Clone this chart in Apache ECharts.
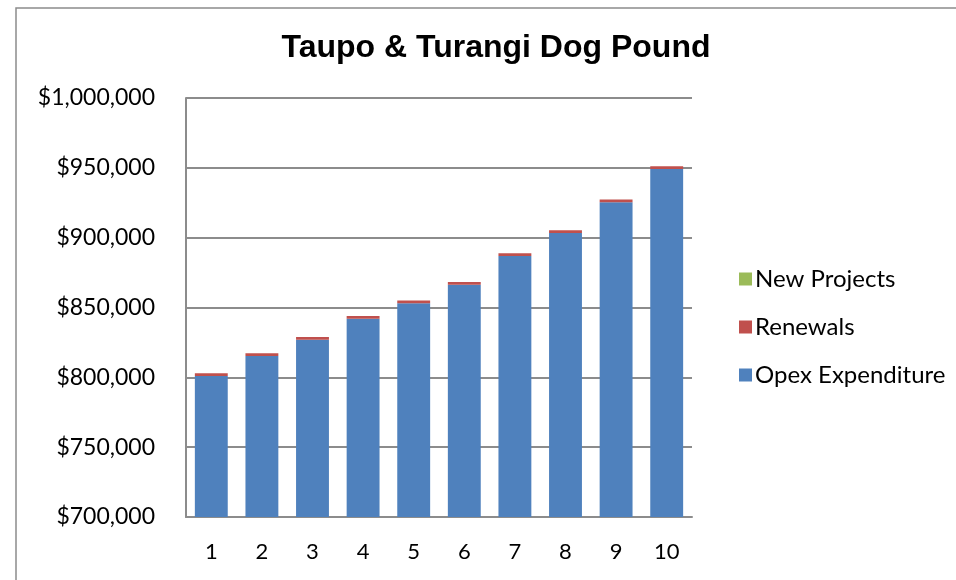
<!DOCTYPE html>
<html>
<head>
<meta charset="utf-8">
<script src="https://cdn.jsdelivr.net/npm/echarts@6/dist/echarts.min.js"></script>
<style>html,body{margin:0;padding:0;background:#fff}#c{width:956px;height:580px}</style>
</head>
<body>
<div id="c"></div>
<script>
const categories = ['1','2','3','4','5','6','7','8','9','10'];
const opex = [801000, 815300, 826900, 842000, 853000, 866300, 886900, 903300, 925300, 949200];
const renewals = [2000, 2000, 2000, 2000, 2000, 2000, 2000, 2000, 2000, 2000];
const newProjects = [0, 0, 0, 0, 0, 0, 0, 0, 0, 0];
const yTicks = { min: 700000, max: 1000000, interval: 50000 };

const chart = echarts.init(document.getElementById('c'), null, { renderer: 'canvas' });
const font = 'Lato, "Open Sans", sans-serif';
chart.setOption({
  animation: false,
  backgroundColor: '#fff',
  graphic: [{
    type: 'rect', shape: { x: 16, y: 8, width: 1000, height: 1000 },
    style: { fill: 'none', stroke: '#8c8c8c', lineWidth: 1.5 }, silent: true, z: -1
  }],
  title: {
    text: 'Taupo & Turangi Dog Pound', left: 491, top: 27, textAlign: 'center',
    textStyle: { fontFamily: '"Liberation Sans", Arial, sans-serif', fontWeight: 'bold', fontSize: 32, color: '#000' }
  },
  legend: {
    orient: 'vertical', left: 734, top: 262, itemWidth: 13, itemHeight: 13, itemGap: 24,
    icon: 'rect',
    data: ['New Projects', 'Renewals', 'Opex Expenditure'],
    textStyle: { fontFamily: font, fontSize: 24, color: '#000', padding: [0, 0, 0, -2] }
  },
  grid: { left: 186, right: 264, top: 98, bottom: 63, containLabel: false },
  xAxis: {
    type: 'category', data: categories,
    axisLine: { lineStyle: { color: '#8c8c8c', width: 2 } },
    axisTick: { show: false },
    axisLabel: { fontFamily: font, fontSize: 22, color: '#000', margin: 24 }
  },
  yAxis: {
    type: 'value', min: yTicks.min, max: yTicks.max, interval: yTicks.interval,
    axisLine: { show: true, lineStyle: { color: '#8c8c8c', width: 2 } },
    axisTick: { show: false },
    splitLine: { lineStyle: { color: '#8c8c8c', width: 2 } },
    axisLabel: {
      fontFamily: font, fontSize: 23, color: '#000', margin: 31,
      formatter: v => '$' + v.toLocaleString('en-US')
    }
  },
  series: [
    { name: 'Opex Expenditure', type: 'bar', stack: 't', data: opex, barCategoryGap: '35%',
      itemStyle: { color: '#4F81BD' } },
    { name: 'Renewals', type: 'bar', stack: 't', data: renewals, itemStyle: { color: '#C0504D' } },
    { name: 'New Projects', type: 'bar', stack: 't', data: newProjects, itemStyle: { color: '#9BBB59' } }
  ]
});
</script>
</body>
</html>
